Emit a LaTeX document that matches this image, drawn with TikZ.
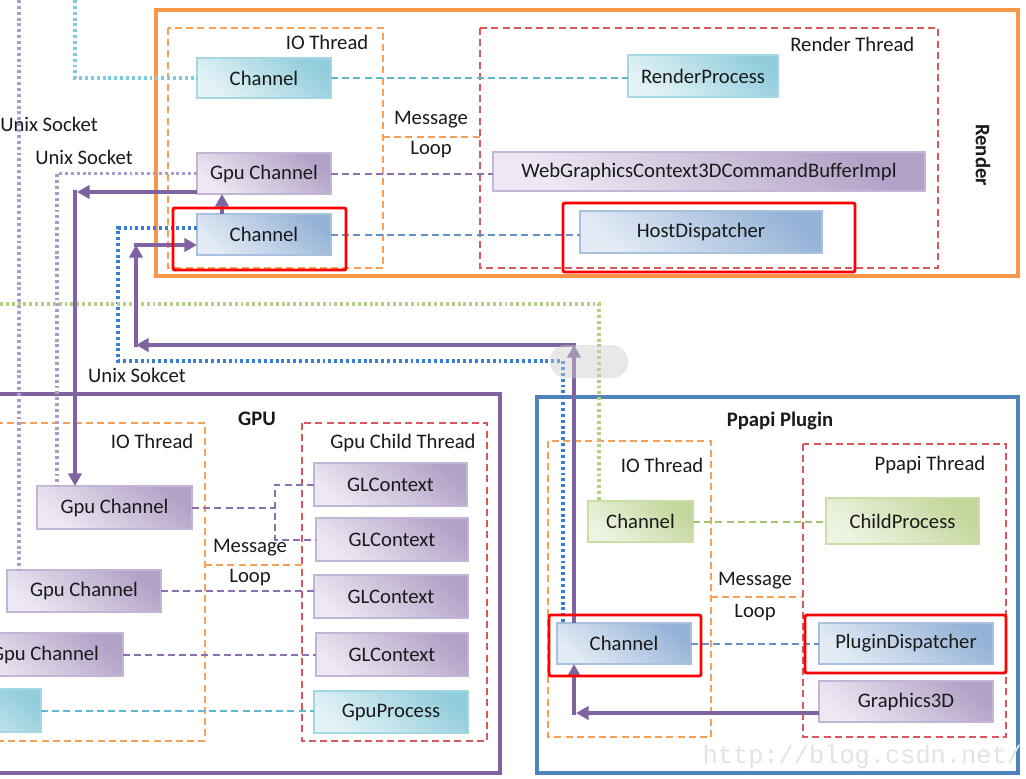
\documentclass[tikz,border=0pt]{standalone}
\usepackage{fontspec}
\setmainfont{Carlito}
\newfontfamily\wmfont{Liberation Mono}
\usetikzlibrary{arrows.meta}
\definecolor{orng}{HTML}{F79646}
\definecolor{orD}{HTML}{F9A057}
\definecolor{gpuC}{HTML}{8064A2}
\definecolor{ppC}{HTML}{4F81BD}
\definecolor{redD}{HTML}{D9585E}
\definecolor{cyD}{HTML}{92CDDC}\definecolor{cyL}{HTML}{E4F3F7}\definecolor{cyB}{HTML}{A5D7E3}
\definecolor{puD}{HTML}{B3A2C7}\definecolor{puL}{HTML}{EDE8F3}\definecolor{puB}{HTML}{C3B5D5}
\definecolor{blD}{HTML}{95B3D7}\definecolor{blL}{HTML}{E3EBF5}\definecolor{blB}{HTML}{A9C1E0}
\definecolor{grD}{HTML}{C3D69B}\definecolor{grL}{HTML}{EEF4E2}\definecolor{grB}{HTML}{CCDDA8}
\definecolor{lnCy}{HTML}{5DB8D0}\definecolor{lnPu}{HTML}{8A70B0}\definecolor{lnBl}{HTML}{6590CA}\definecolor{lnGr}{HTML}{A3C46A}
\definecolor{dtCy}{HTML}{7FCADB}\definecolor{dtPu}{HTML}{AE9BCE}\definecolor{dtBl}{HTML}{3A7CD9}\definecolor{dtGr}{HTML}{B3D080}
\definecolor{txt}{HTML}{1A1A1A}
\newcommand\bx[7]{\node[#2, minimum width={((#5)-(#3))*0.75pt}, minimum height={((#6)-(#4))*0.75pt}] (#1) at ({((#3)+(#5))/2},{((#4)+(#6))/2}) {#7};}
\begin{document}
\begin{tikzpicture}[x=0.75pt,y=-0.75pt,
  font=\fontsize{15.5}{18}\selectfont,
  every node/.style={text=txt},
  boxbase/.style={draw, line width=1.2pt, inner sep=0pt, outer sep=0pt},
  cbox/.style={boxbase, draw=cyB, top color=cyD, bottom color=cyL, shading angle=-40},
  pbox/.style={boxbase, draw=puB, top color=puD, bottom color=puL, shading angle=-40},
  bbox/.style={boxbase, draw=blB, top color=blD, bottom color=blL, shading angle=-40},
  gbox/.style={boxbase, draw=grB, top color=grD, bottom color=grL, shading angle=-40},
  dashl/.style={line width=1.5pt, dash pattern=on 5.2pt off 3.2pt},
  dcy/.style={dashl, draw=lnCy},
  dpu/.style={dashl, draw=lnPu},
  dbl/.style={dashl, draw=lnBl},
  dgr/.style={dashl, draw=lnGr},
  dotl/.style={line width=2.6pt, dash pattern=on 2.2pt off 2.2pt},
  dtcy/.style={dotl, draw=dtCy},
  dtpu/.style={dotl, draw=dtPu},
  dtbl/.style={dotl, draw=dtBl},
  dtgr/.style={dotl, draw=dtGr},
  thr/.style={line width=1.5pt, dash pattern=on 5.2pt off 3.2pt},
  dor/.style={thr, draw=orD},
  dred/.style={thr, draw=redD},
  parr/.style={draw=gpuC, line width=3pt, -{Triangle[length=9.5pt,width=10pt]}},
  hil/.style={draw=red, line width=2.2pt, rounded corners=1.5pt},
  ttl/.style={font=\fontsize{15.5}{18}\selectfont\bfseries}
]
\clip (0,0) rectangle (1026,779);
\fill[white] (0,0) rectangle (1026,779);

% ---------- containers ----------
\draw[orng, line width=3.6pt] (156,10) rectangle (1018,276);
\draw[dor] (168,28) rectangle (383,268);
\draw[dor] (383,137) -- (480,137);
\draw[dred] (480,28) rectangle (938,268);

\draw[gpuC, line width=3.6pt] (-10,394) rectangle (500,773);
\draw[dor] (-10,423) rectangle (205,741);
\draw[dor] (205,565) -- (302,565);
\draw[dred] (302,423) rectangle (487,741);

\draw[ppC, line width=3.6pt] (537,397) rectangle (1018,773);
\draw[dor] (548,441) rectangle (711,737);
\draw[dor] (711,597) -- (803,597);
\draw[dred] (803,444) rectangle (1006,737);

% ---------- boxes ----------
\bx{rch1}{cbox}{197}{58}{331}{98}{Channel}
\bx{rproc}{cbox}{628}{55}{778}{97}{RenderProcess}
\bx{rgc}{pbox}{197}{153}{331}{194}{Gpu Channel}
\bx{wgc}{pbox}{493}{152}{925}{191}{WebGraphicsContext3DCommandBufferImpl}
\bx{rch2}{bbox}{197}{214}{331}{255}{Channel}
\bx{hd}{bbox}{580}{211}{822}{253}{HostDispatcher}

\bx{gc1}{pbox}{37}{486}{192}{529}{Gpu Channel}
\bx{gc2}{pbox}{7}{570}{161}{612}{Gpu Channel}
\bx{gc3}{pbox}{-33}{633}{123}{676}{Gpu Channel}
\bx{gcx}{cbox}{-80}{689}{41}{732}{}
\bx{gl1}{pbox}{314}{463}{467}{506}{GLContext}
\bx{gl2}{pbox}{316}{518}{468}{561}{GLContext}
\bx{gl3}{pbox}{314}{575}{468}{618}{GLContext}
\bx{gl4}{pbox}{316}{633}{468}{676}{GLContext}
\bx{gproc}{cbox}{314}{691}{468}{733}{GpuProcess}

\bx{pch1}{gbox}{588}{501}{693}{542}{Channel}
\bx{cproc}{gbox}{826}{498}{979}{544}{ChildProcess}
\bx{pch2}{bbox}{557}{623}{691}{664}{Channel}
\bx{pd}{bbox}{819}{623}{993}{664}{PluginDispatcher}
\bx{g3d}{pbox}{819}{681}{993}{722}{Graphics3D}

% ---------- dashed connectors ----------
\draw[dcy] (rch1.east) -- (rch1.east -| rproc.west);
\draw[dpu] (rgc.east) -- (rgc.east -| wgc.west);
\draw[dbl] (rch2.east) -- (rch2.east -| hd.west);
\coordinate (fan) at (275,507.5);
\draw[dpu] (gc1.east) -- (fan);
\draw[dpu] (gl1.west) -| (fan) |- (gl2.west);
\draw[dpu] (gc2.east) -- (gc2.east -| gl3.west);
\draw[dpu] (gc3.east) -- (gc3.east -| gl4.west);
\draw[dcy] (gcx.east) -- (gcx.east -| gproc.west);
\draw[dgr] (pch1.east) -- (pch1.east -| cproc.west);
\draw[dbl] (pch2.east) -- (pch2.east -| pd.west);

% ---------- dotted (Unix socket) lines ----------
\coordinate (cyTop) at (75,0);
\draw[dtcy] (cyTop) |- (rch1.west);
\coordinate (puTop) at (19,0);
\draw[dtpu] (puTop) -- (puTop |- gc2.north);
\coordinate (puX) at (57,0);
\draw[dtpu] (rgc.west) -| (puX |- gc1.north);
\coordinate (bl1) at (118,228);
\coordinate (bl2) at (563,361);
\draw[dtbl] (rch2.west |- bl1) -- (bl1) |- (bl2) -- (bl2 |- pch2.north);
\coordinate (grA) at (0,304);
\coordinate (grC) at (599,304);
\draw[dtgr] (grA) -- (grC) -- (grC |- pch1.north);

% ---------- thick arrows ----------
\coordinate (a1) at (75,192);
\draw[parr] (rgc.west |- a1) -- ([xshift=1.5pt]a1);
\draw[parr] ([yshift=1.5pt]a1) -- (a1 |- gc1.north);
\coordinate (ax) at (222,0);
\draw[parr] (rch2.north -| ax) -- (rgc.south -| ax);
\coordinate (k1) at (574,345);
\coordinate (k2) at (136,345);
\coordinate (k3) at (136,245);
\draw[parr] (pch2.north -| k1) -- (k1);
\draw[parr] ([xshift=1.5pt]k1) -- (k2);
\draw[parr] ([yshift=-1.5pt]k2) -- (k3);
\draw[parr] ([xshift=-1.5pt]k3) -- (k3 -| rch2.west);
\coordinate (k4) at (574,713);
\draw[parr] (g3d.west |- k4) -- ([xshift=1.5pt]k4);
\draw[parr] ([yshift=-1.5pt]k4) -- (k4 |- pch2.south);

% ---------- red highlights ----------
\draw[hil] (173,208) rectangle (346,270);
\draw[hil] (563,203) rectangle (855,272);
\draw[hil] (549,615) rectangle (701,676);
\draw[hil] (805,615) rectangle (1006,673);

% ---------- labels ----------
\node[anchor=east] (lio1) at (373,42) {IO Thread};
\node[anchor=east] (lrt) at (919,44) {Render Thread};
\node (lm1) at (431,120) {Message};
\node (ll1) at (431,150) {Loop};
\node[ttl, rotate=-90] (lrender) at (983,155) {Render};
\node (us1) at (49,124) {Unix Socket};
\node (us2) at (84,157) {Unix Socket};
\node (us3) at (137,375) {Unix Sokcet};

\node[ttl] (lgpu) at (257,419) {GPU};
\node[anchor=east] (lio2) at (198,441) {IO Thread};
\node (lgct) at (403,443) {Gpu Child Thread};
\node (lm2) at (250,548) {Message};
\node (ll2) at (250,578) {Loop};

\node[ttl] (lpp) at (780,421) {Ppapi Plugin};
\node[anchor=east] (lio3) at (708,465) {IO Thread};
\node (lpt) at (930,465) {Ppapi Thread};
\node (lm3) at (755,581) {Message};
\node (ll3) at (755,613) {Loop};

% ---------- overlays ----------
\fill[gray!40, opacity=0.45, rounded corners=12pt] (550,345) rectangle (628,378);
\node[anchor=west, text=gray!22, font=\wmfont\fontsize{19}{20}\selectfont] (wm) at (698,757) {http://blog.csdn.net/};
\end{tikzpicture}
\end{document}
